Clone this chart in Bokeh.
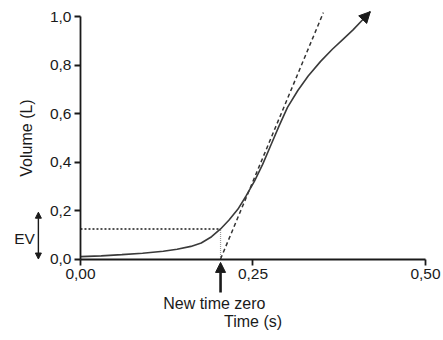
from bokeh.plotting import figure
from bokeh.models import Range1d, FixedTicker, Arrow, NormalHead, Label, LinearAxis
from bokeh.embed import file_html
from bokeh.resources import INLINE

# ---- data ----
curve_t = [0.0, 0.03, 0.06, 0.09, 0.12, 0.14, 0.16, 0.175, 0.19, 0.203, 0.215,
           0.228, 0.24, 0.252, 0.264, 0.276, 0.288, 0.30, 0.315, 0.33, 0.348,
           0.365, 0.38, 0.395, 0.41, 0.42]
curve_v = [0.01, 0.013, 0.018, 0.024, 0.032, 0.04, 0.052, 0.066, 0.092, 0.124, 0.16,
           0.205, 0.26, 0.32, 0.39, 0.47, 0.55, 0.625, 0.695, 0.755, 0.815,
           0.865, 0.905, 0.945, 0.99, 1.02]

tangent_t = [0.203, 0.352]
tangent_v = [0.0, 1.016]

new_time_zero = 0.203
ev_volume = 0.124
ev_arrow = [0.0, 0.193]

x_ticks = [0.0, 0.25, 0.5]
x_tick_labels = ["0,00", "0,25", "0,50"]
y_ticks = [0.0, 0.2, 0.4, 0.6, 0.8, 1.0]
y_tick_labels = ["0,0", "0,2", "0,4", "0,6", "0,8", "1,0"]

FONT = "Liberation Sans"
INK = "#1a1a1a"

# the frame covers the whole canvas; axes are pinned at zero inside it
p = figure(width=443, height=340, output_backend="svg", toolbar_location=None,
           x_range=Range1d(-0.1159, 0.5261), y_range=Range1d(-0.336, 1.066),
           x_axis_type=None, y_axis_type=None, min_border=0)
p.outline_line_color = None
p.grid.visible = False
p.background_fill_color = "white"

xaxis = LinearAxis(ticker=FixedTicker(ticks=x_ticks),
                   major_label_overrides=dict(zip(x_ticks, x_tick_labels)),
                   bounds=(x_ticks[0], x_ticks[-1]), fixed_location=0,
                   axis_label="Time (s)")
yaxis = LinearAxis(ticker=FixedTicker(ticks=y_ticks),
                   major_label_overrides=dict(zip(y_ticks, y_tick_labels)),
                   bounds=(y_ticks[0], y_ticks[-1]), fixed_location=0,
                   axis_label="Volume (L)")
for ax in (xaxis, yaxis):
    ax.axis_line_width = 1.8
    ax.axis_line_color = INK
    ax.major_tick_line_width = 1.8
    ax.major_tick_line_color = INK
    ax.major_tick_out = 6
    ax.major_tick_in = 0
    ax.minor_tick_line_color = None
    ax.major_label_text_font = FONT
    ax.major_label_text_font_size = "15.5px"
    ax.major_label_text_color = INK
    ax.axis_label_text_font = FONT
    ax.axis_label_text_font_size = "16px"
    ax.axis_label_text_font_style = "normal"
    ax.axis_label_text_color = INK
xaxis.major_label_standoff = 4
xaxis.axis_label_standoff = 30
yaxis.major_label_standoff = 3
yaxis.axis_label_standoff = 12
p.add_layout(xaxis, "below")
p.add_layout(yaxis, "left")

# dotted guides for EV
p.line([0, new_time_zero], [ev_volume, ev_volume], line_color=INK,
       line_width=1.5, line_dash="2 2")
p.line([new_time_zero, new_time_zero], [0, ev_volume], line_color="#9a9a9a",
       line_width=1.2, line_dash="1 1")

# tangent line
p.line(tangent_t, tangent_v, line_color="#333333", line_width=1.5, line_dash="4 3")

# volume curve with arrow head
p.line(curve_t, curve_v, line_color="#3a3a3a", line_width=1.6)
p.add_layout(Arrow(end=NormalHead(size=11, fill_color=INK, line_color=INK),
                   x_start=curve_t[-2], y_start=curve_v[-2],
                   x_end=curve_t[-1], y_end=curve_v[-1],
                   line_color="#3a3a3a", line_width=1.6))

# "New time zero" arrow below the axis
p.add_layout(Arrow(end=NormalHead(size=10, fill_color=INK, line_color=INK),
                   x_start=new_time_zero, y_start=-0.138,
                   x_end=new_time_zero, y_end=-0.014,
                   line_color=INK, line_width=2.6))
p.add_layout(Label(x=0.194, y=-0.15, text="New time zero", text_font=FONT,
                   text_font_size="16px", text_color=INK, text_align="center",
                   text_baseline="top"))

# EV double arrow
p.add_layout(Arrow(start=NormalHead(size=6, fill_color=INK, line_color=INK),
                   end=NormalHead(size=6, fill_color=INK, line_color=INK),
                   x_start=-0.061, y_start=ev_arrow[0],
                   x_end=-0.061, y_end=ev_arrow[1],
                   line_color=INK, line_width=1.4))
p.add_layout(Label(x=-0.066, y=0.085, text="EV", text_font=FONT,
                   text_font_size="15.5px", text_color=INK, text_align="right",
                   text_baseline="middle"))

open("out.html", "w").write(file_html(p, INLINE))
